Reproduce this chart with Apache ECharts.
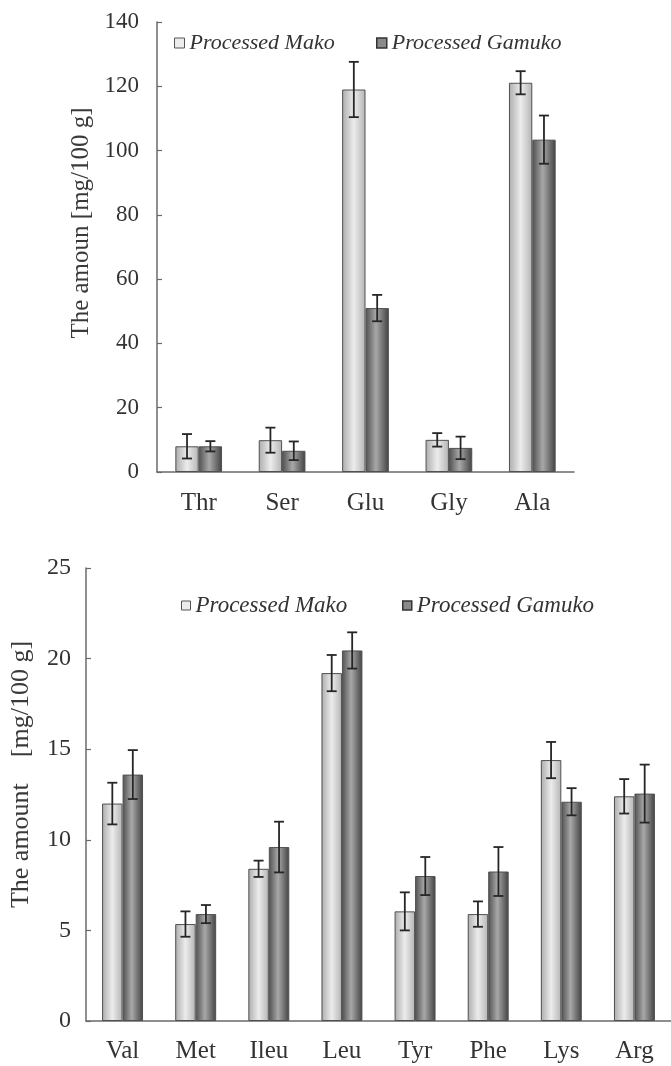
<!DOCTYPE html>
<html>
<head>
<meta charset="utf-8">
<title>Amino acid content of processed Mako and Gamuko</title>
<script src="https://cdn.jsdelivr.net/npm/echarts@6/dist/echarts.min.js"></script>
<style>
  html, body { margin: 0; padding: 0; background: #ffffff; }
  #chart { width: 671px; height: 1066px; }
</style>
</head>
<body>
<div id="chart"></div>
<script>
// Upper panel: major amino acids (mg/100 g)
const upperCategories = ['Thr', 'Ser', 'Glu', 'Gly', 'Ala'];
const upperMako = [8.0, 9.9, 119.0, 10.0, 121.1];
const upperMakoErr = [3.8, 3.9, 8.6, 2.1, 3.6];
const upperGamuko = [8.0, 6.6, 51.0, 7.5, 103.4];
const upperGamukoErr = [1.6, 2.9, 4.1, 3.5, 7.5];
const upperTicks = { min: 0, max: 140, interval: 20 };

// Lower panel: essential amino acids (mg/100 g)
const lowerCategories = ['Val', 'Met', 'Ileu', 'Leu', 'Tyr', 'Phe', 'Lys', 'Arg'];
const lowerMako = [12.0, 5.35, 8.4, 19.2, 6.05, 5.9, 14.4, 12.4];
const lowerMakoErr = [1.15, 0.7, 0.45, 1.0, 1.05, 0.7, 1.0, 0.95];
const lowerGamuko = [13.6, 5.9, 9.6, 20.45, 8.0, 8.25, 12.1, 12.55];
const lowerGamukoErr = [1.35, 0.5, 1.4, 1.0, 1.05, 1.35, 0.75, 1.6];
const lowerTicks = { min: 0, max: 25, interval: 5 };

const seriesNames = ['Processed Mako', 'Processed Gamuko'];

const SERIF = '"Liberation Serif", "Times New Roman", serif';
const AXIS_COLOR = '#6a6a6a';
const TEXT_COLOR = '#333333';
const CATEGORY_GAP = 0.44;

const makoFill = new echarts.graphic.LinearGradient(0, 0, 1, 0, [
  { offset: 0, color: '#acacac' },
  { offset: 0.5, color: '#ececec' },
  { offset: 1, color: '#b4b4b4' }
]);
const gamukoFill = new echarts.graphic.LinearGradient(0, 0, 1, 0, [
  { offset: 0, color: '#505050' },
  { offset: 0.45, color: '#a8a8a8' },
  { offset: 1, color: '#424242' }
]);

function barSeries(name, values, fill, axisIndex) {
  return {
    name: name,
    type: 'bar',
    xAxisIndex: axisIndex,
    yAxisIndex: axisIndex,
    data: values,
    barGap: '0%',
    barCategoryGap: (CATEGORY_GAP * 100) + '%',
    itemStyle: { color: fill, borderColor: '#505050', borderWidth: 1 },
    emphasis: { disabled: true },
    z: 2
  };
}

// Error bars centred on each bar: side = -1 for the left bar, +1 for the right bar
function errorSeries(values, errors, side, axisIndex) {
  return {
    type: 'custom',
    xAxisIndex: axisIndex,
    yAxisIndex: axisIndex,
    data: values.map((v, i) => [i, v, errors[i]]),
    encode: { x: 0, y: 1 },
    silent: true,
    z: 5,
    renderItem: function (params, api) {
      const idx = api.value(0);
      const v = api.value(1);
      const e = api.value(2);
      const catWidth = api.size([1, 0])[0];
      const barWidth = catWidth * (1 - CATEGORY_GAP) / 2;
      const x = api.coord([idx, v])[0] + side * barWidth / 2;
      const yHigh = api.coord([idx, v + e])[1];
      const yLow = api.coord([idx, v - e])[1];
      const cap = 5;
      const style = { stroke: '#262626', lineWidth: 1.8 };
      return {
        type: 'group',
        children: [
          { type: 'line', shape: { x1: x, y1: yHigh, x2: x, y2: yLow }, style: style },
          { type: 'line', shape: { x1: x - cap, y1: yHigh, x2: x + cap, y2: yHigh }, style: style },
          { type: 'line', shape: { x1: x - cap, y1: yLow, x2: x + cap, y2: yLow }, style: style }
        ]
      };
    }
  };
}

function legendItem(name, left, top, size, fontSize, style) {
  return {
    data: [{ name: name, itemStyle: style }],
    left: left,
    top: top,
    padding: 0,
    icon: 'rect',
    itemWidth: size,
    itemHeight: size,
    itemGap: 0,
    selectedMode: false,
    textStyle: {
      fontFamily: SERIF,
      fontStyle: 'italic',
      fontSize: fontSize,
      color: TEXT_COLOR
    }
  };
}

const makoIcon = { color: '#ececec', borderColor: '#555555', borderWidth: 1 };
const gamukoIcon = { color: '#8a8a8a', borderColor: '#333333', borderWidth: 1.5 };

function categoryAxis(data, gridIndex, margin) {
  return {
    type: 'category',
    gridIndex: gridIndex,
    data: data,
    axisLine: { lineStyle: { color: AXIS_COLOR, width: 1.5 } },
    axisTick: { inside: true, length: 5, lineStyle: { color: AXIS_COLOR, width: 1.2 } },
    axisLabel: { fontFamily: SERIF, fontSize: 25, color: TEXT_COLOR, margin: margin },
    splitLine: { show: false }
  };
}

function valueAxis(ticks, gridIndex, name, nameSize, nameGap, shift, labelSize, labelMargin) {
  return {
    type: 'value',
    gridIndex: gridIndex,
    min: ticks.min,
    max: ticks.max,
    interval: ticks.interval,
    name: name,
    nameLocation: 'middle',
    nameRotate: 90,
    nameGap: nameGap,
    nameTextStyle: {
      fontFamily: SERIF,
      fontSize: nameSize,
      color: '#3a3a3a',
      padding: [0, 0, 0, shift * 2]
    },
    axisLine: { show: true, lineStyle: { color: AXIS_COLOR, width: 1.5 } },
    axisTick: { show: true, inside: true, length: 5, lineStyle: { color: AXIS_COLOR, width: 1.2 } },
    axisLabel: { fontFamily: SERIF, fontSize: labelSize, color: TEXT_COLOR, margin: labelMargin },
    splitLine: { show: false }
  };
}

const chart = echarts.init(document.getElementById('chart'), null, { renderer: 'canvas' });

chart.setOption({
  backgroundColor: '#ffffff',
  animation: false,
  grid: [
    { left: 157, top: 22, width: 417, height: 450 },
    { left: 83, top: 568, width: 590, height: 453 }
  ],
  legend: [
    legendItem(seriesNames[0], 174, 32, 10, 22, makoIcon),
    legendItem(seriesNames[1], 376, 32, 10, 22, gamukoIcon),
    legendItem(seriesNames[0], 181, 594, 9, 23, makoIcon),
    legendItem(seriesNames[1], 402, 594, 9, 23, gamukoIcon)
  ],
  xAxis: [
    categoryAxis(upperCategories, 0, 19),
    categoryAxis(lowerCategories, 1, 18)
  ],
  yAxis: [
    valueAxis(upperTicks, 0, 'The amoun [mg/100 g]', 25, 60, 24, 23, 18),
    valueAxis(lowerTicks, 1, 'The amount\u3000[mg/100 g]', 26, 52, 20, 24, 15)
  ],
  series: [
    barSeries(seriesNames[0], upperMako, makoFill, 0),
    barSeries(seriesNames[1], upperGamuko, gamukoFill, 0),
    errorSeries(upperMako, upperMakoErr, -1, 0),
    errorSeries(upperGamuko, upperGamukoErr, 1, 0),
    barSeries(seriesNames[0], lowerMako, makoFill, 1),
    barSeries(seriesNames[1], lowerGamuko, gamukoFill, 1),
    errorSeries(lowerMako, lowerMakoErr, -1, 1),
    errorSeries(lowerGamuko, lowerGamukoErr, 1, 1)
  ]
});
</script>
</body>
</html>
